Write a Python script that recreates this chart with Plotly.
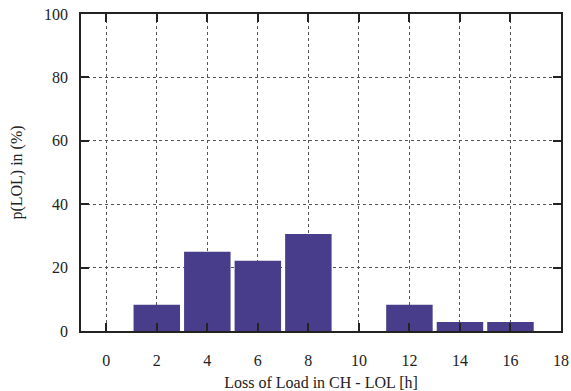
import plotly.graph_objects as go

lol_hours = [0, 2, 4, 6, 8, 10, 12, 14, 16]
p_lol = [0.0, 8.3, 25.0, 22.2, 30.6, 0.0, 8.3, 2.8, 2.8]
x_ticks = [0, 2, 4, 6, 8, 10, 12, 14, 16, 18]
y_ticks = [0, 20, 40, 60, 80, 100]

font_family = "Liberation Serif"

fig = go.Figure(
    go.Bar(
        x=lol_hours,
        y=p_lol,
        width=1.84,
        marker=dict(color="#483D8B", line=dict(width=0)),
    )
)

axis_common = dict(
    showline=True,
    linecolor="#222222",
    linewidth=1.5,
    mirror="ticks",
    ticks="inside",
    ticklen=8,
    tickcolor="#222222",
    tickwidth=1.5,
    showgrid=True,
    gridcolor="#555555",
    griddash="dot",
    gridwidth=1,
    zeroline=False,
    automargin=False,
    ticklabeloverflow="allow",
    tickfont=dict(family=font_family, size=16, color="#222222"),
    title_font=dict(family=font_family, size=16, color="#222222"),
)

fig.update_xaxes(
    range=[-1, 18],
    tickvals=x_ticks,
    ticklabelstandoff=14,
    title_text="Loss of Load in CH - LOL [h]",
    title_standoff=18,
    **axis_common,
)
fig.update_yaxes(
    range=[0, 100],
    tickvals=y_ticks,
    ticklabelstandoff=8,
    title_text="p(LOL) in (%)",
    title_standoff=17,
    **axis_common,
)

fig.update_layout(
    width=571,
    height=391,
    margin=dict(l=81, r=10, t=14, b=60),
    plot_bgcolor="white",
    paper_bgcolor="white",
    showlegend=False,
    font=dict(family=font_family),
)

fig.write_html(
    "out.html",
    config={"displayModeBar": False},
    post_script="document.body.style.margin='0';",
)
